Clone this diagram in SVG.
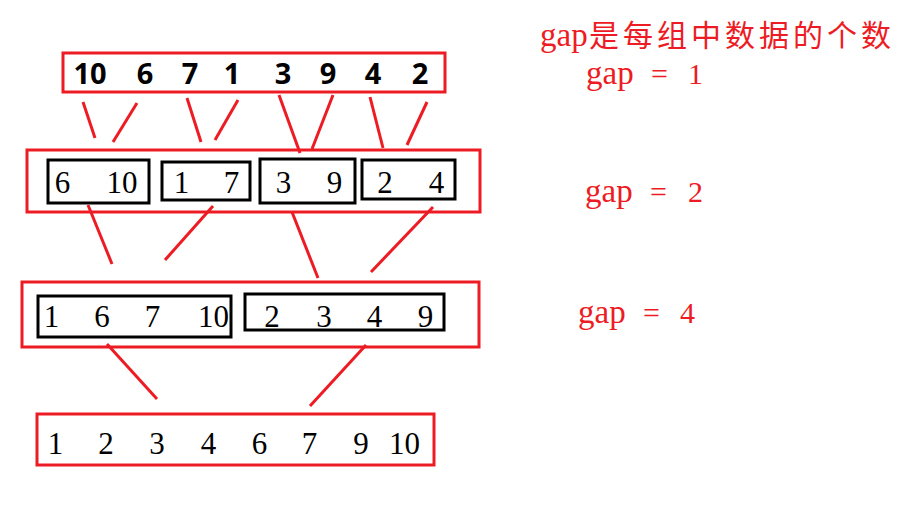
<svg xmlns="http://www.w3.org/2000/svg" width="900" height="510" viewBox="0 0 900 510">
<style>
.rb{fill:none;stroke:#ED1C24;stroke-width:3}
.bb{fill:none;stroke:#000;stroke-width:3}
.cn line{stroke:#ED1C24;stroke-width:3;stroke-linecap:butt}
.top{font-family:"Noto Sans","Liberation Sans",sans-serif;font-weight:bold;font-size:29px;fill:#000;text-anchor:middle}
.num{font-family:"Liberation Serif",serif;font-size:31px;fill:#000;text-anchor:middle}
.lbl{font-family:"Liberation Serif","Noto Sans CJK SC",serif;font-size:30px;fill:#ED1C24}
.g{font-size:33px}
</style>
<rect width="900" height="510" fill="#fff"/>
<g id="row1">
<rect class="rb" x="63" y="53" width="382" height="39"/>
<text class="top" y="84"><tspan x="90">10</tspan><tspan x="145">6</tspan><tspan x="190">7</tspan><tspan x="232">1</tspan><tspan x="283">3</tspan><tspan x="328">9</tspan><tspan x="373">4</tspan><tspan x="420">2</tspan></text>
</g>
<g id="row2">
<rect class="rb" x="27" y="150" width="453" height="62"/>
<rect class="bb" x="48" y="160" width="101" height="43"/>
<rect class="bb" x="162" y="162" width="88" height="38"/>
<rect class="bb" x="260" y="159" width="95" height="44"/>
<rect class="bb" x="362" y="160" width="93" height="39"/>
<text class="num" y="193"><tspan x="62.5">6</tspan><tspan x="122">10</tspan><tspan x="181.5">1</tspan><tspan x="231.5">7</tspan><tspan x="283.5">3</tspan><tspan x="334.5">9</tspan><tspan x="385">2</tspan><tspan x="436.5">4</tspan></text>
</g>
<g id="row3">
<rect class="rb" x="22" y="282" width="457" height="65"/>
<rect class="bb" x="38" y="296" width="193" height="41"/>
<rect class="bb" x="245" y="294" width="199" height="36"/>
<text class="num" y="327"><tspan x="51.5">1</tspan><tspan x="102">6</tspan><tspan x="152.5">7</tspan><tspan x="213.5">10</tspan><tspan x="272">2</tspan><tspan x="324">3</tspan><tspan x="374.5">4</tspan><tspan x="425.5">9</tspan></text>
</g>
<g id="row4">
<rect class="rb" x="37" y="414" width="397" height="51"/>
<text class="num" y="454"><tspan x="55.5">1</tspan><tspan x="106">2</tspan><tspan x="157">3</tspan><tspan x="208.5">4</tspan><tspan x="259.5">6</tspan><tspan x="309.5">7</tspan><tspan x="361">9</tspan><tspan x="404.5">10</tspan></text>
</g>
<g id="connectors" class="cn">
<line x1="83" y1="102" x2="95" y2="138"/>
<line x1="137" y1="103" x2="113" y2="142"/>
<line x1="187" y1="98" x2="201" y2="142"/>
<line x1="238" y1="100" x2="215" y2="140"/>
<line x1="279" y1="95" x2="300" y2="153"/>
<line x1="333" y1="95" x2="312" y2="149"/>
<line x1="370" y1="97" x2="383" y2="148"/>
<line x1="427" y1="102" x2="407" y2="145"/>
<line x1="88" y1="205" x2="112" y2="264"/>
<line x1="213" y1="206" x2="165" y2="260"/>
<line x1="292" y1="212" x2="318" y2="278"/>
<line x1="433" y1="207" x2="371" y2="272"/>
<line x1="107" y1="344" x2="157" y2="399"/>
<line x1="366" y1="345" x2="310" y2="406"/>
</g>
<g id="labels">
<text class="lbl" y="46"><tspan class="g" x="540">gap</tspan><tspan x="589" textLength="302" lengthAdjust="spacing">是每组中数据的个数</tspan></text>
<text class="lbl" y="84"><tspan class="g" x="586">gap</tspan><tspan x="651">=</tspan><tspan x="688">1</tspan></text>
<text class="lbl" y="202"><tspan class="g" x="585">gap</tspan><tspan x="650">=</tspan><tspan x="688">2</tspan></text>
<text class="lbl" y="323"><tspan class="g" x="578">gap</tspan><tspan x="643">=</tspan><tspan x="680">4</tspan></text>
</g>
</svg>
